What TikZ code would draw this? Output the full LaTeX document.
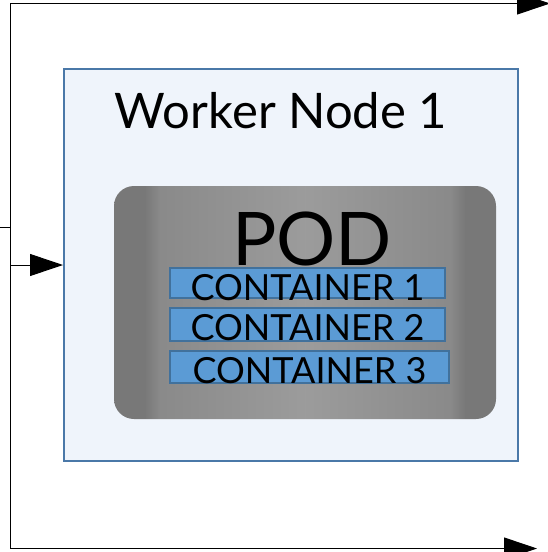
\documentclass[tikz,border=0pt]{standalone}
\usepackage{fontspec}
\setmainfont{Lato}
\usetikzlibrary{arrows.meta}
\definecolor{nodeborder}{HTML}{4A78A8}
\definecolor{nodefill}{HTML}{EFF4FB}
\definecolor{contfill}{HTML}{5B9BD5}
\definecolor{contborder}{HTML}{41719C}
\pgfdeclarehorizontalshading{podshade}{100bp}{
  color(0bp)=(black!53); color(29bp)=(black!53); color(31bp)=(black!46);
  color(50bp)=(black!39); color(69bp)=(black!46); color(71bp)=(black!53); color(100bp)=(black!53)}
\tikzset{
  conn/.style={draw=black, line width=1pt},
  bigtip/.style={-{Triangle[length=33pt,width=22pt]}},
  workerbox/.style={draw=nodeborder, fill=nodefill, line width=2pt, inner sep=0pt,
    minimum width=454pt, minimum height=392pt},
  podbox/.style={rounded corners=20pt, inner sep=0pt, shading=podshade,
    minimum width=382pt, minimum height=233pt},
  contbox/.style={draw=contborder, fill=contfill, line width=1.5pt, inner sep=0pt},
  lbl/.style={inner sep=0pt, anchor=base, text=black},
}
\begin{document}
\begin{tikzpicture}[x=1pt,y=-1pt]
\useasboundingbox (0,0) rectangle (548,552);
\node[workerbox] (worker) at (291,265) {};
\node[podbox] (pod) at (305,302.5) {};
\node[contbox, minimum width=275pt, minimum height=30pt] (c1) at (307.5,283) {};
\node[contbox, minimum width=275pt, minimum height=33pt] (c2) at (307.5,324.5) {};
\node[contbox, minimum width=279pt, minimum height=32pt] (c3) at (309.5,367) {};
\node[lbl, font=\fontsize{49}{55}\selectfont] (title) at (281,128) {Worker Node 1};
\node[lbl, font=\fontsize{74}{80}\selectfont] (podlbl) at (312,265) {POD};
\node[lbl, font=\fontsize{36}{40}\selectfont] (t1) at (307.5,300) {CONTAINER 1};
\node[lbl, font=\fontsize{36}{40}\selectfont] (t2) at (307.5,340) {CONTAINER 2};
\node[lbl, font=\fontsize{36}{40}\selectfont] (t3) at (309.5,383) {CONTAINER 3};
\coordinate (tl) at (10,3.5);
\coordinate (tr) at (550,3.5);
\coordinate (bl) at (10,548.5);
\coordinate (br) at (537,548.5);
\coordinate (l0) at (0,227);
\coordinate (l1) at (10,227);
\coordinate (j) at (10,265);
\draw[conn, bigtip] (bl) -- (tl) -- (tr);
\draw[conn, bigtip] (bl) -- (br);
\draw[conn] (l0) -- (l1);
\draw[conn, bigtip] (j) -- (worker.west);
\end{tikzpicture}
\end{document}
